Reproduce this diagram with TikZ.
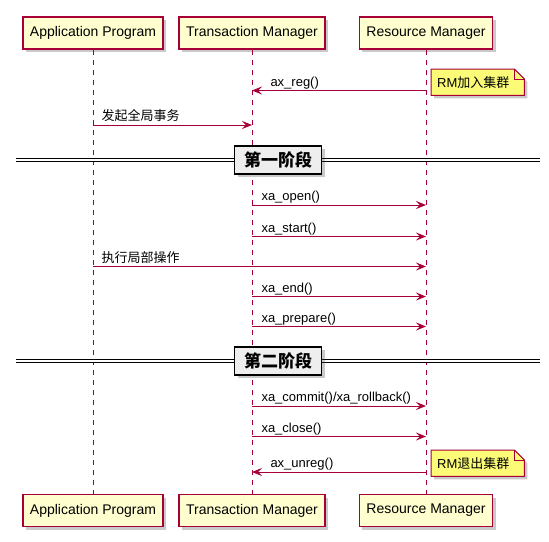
\documentclass[tikz,border=0pt]{standalone}
\usepackage{fontspec}
\setmainfont{Liberation Sans}
\newfontfamily\cjk{Noto Sans CJK SC}
\usetikzlibrary{arrows.meta,positioning,calc,shadows,backgrounds}
\definecolor{umlred}{HTML}{A80036}
\definecolor{partfill}{HTML}{FEFECE}
\definecolor{notefill}{HTML}{FBFB77}
\definecolor{phasefill}{HTML}{EEEEEE}

\begin{document}
\begin{tikzpicture}[x=1pt, y=-1pt,
  shd/.style={drop shadow={shadow xshift=3pt, shadow yshift=-3pt,
    opacity=.3, fill=black!70}},
  part/.style={draw=umlred, line width=1.5pt, fill=partfill, shd,
    inner xsep=7pt, minimum height=32pt, font=\fontsize{14}{16}\selectfont},
  life/.style={draw=umlred, line width=1pt, dash pattern=on 5pt off 5pt},
  msg/.style={draw=umlred, line width=1pt,
    -{Stealth[length=10pt, width=8pt, inset=4pt]}},
  lbl/.style={font=\fontsize{13}{15}\selectfont, inner sep=0pt},
  notetxt/.style={lbl, text width=81pt, inner xsep=6pt, minimum height=26pt},
  notebg/.style={draw=umlred, line width=1pt, fill=notefill, shd},
  sep/.style={draw=black, line width=1pt, double=white, double distance=2pt},
  phase/.style={draw=black, line width=1.5pt, fill=phasefill, shd,
    minimum width=87pt, minimum height=28pt, inner sep=0pt,
    font=\fontsize{17}{19}\selectfont\cjk\bfseries},
]
\useasboundingbox (0,0) rectangle (549,541);
% participants
\node[part] (apt) at (93,33) {Application Program};
\node[part] (tmt) at (252,33) {Transaction Manager};
\node[part] (rmt) at (426,33) {Resource Manager};
\node[part] (apb) at (93,510.5) {Application Program};
\node[part] (tmb) at (252,510.5) {Transaction Manager};
\node[part] (rmb) at (426,510.5) {Resource Manager};
\draw[life] (apt) -- (apb);
\draw[life] (tmt) -- (tmb);
\draw[life] (rmt) -- (rmb);

% phase separators
\coordinate (s1l) at (16,160);
\coordinate (s1r) at (540,160);
\coordinate (s2l) at (16,361);
\coordinate (s2r) at (540,361);
\draw[sep] (s1l) -- (s1r);
\draw[sep] (s2l) -- (s2r);
\node[phase] (ph1) at (278,160) {第一阶段};
\node[phase] (ph2) at (278,361) {第二阶段};

% messages
\draw[msg] (rmt |- 0,90.5) -- (tmt |- 0,90.5)
  node[lbl, pos=1, anchor=base west, xshift=18pt, yshift=4.5pt] {ax\_reg()};
\draw[msg] (apt |- 0,125) -- (tmt |- 0,125)
  node[lbl, pos=0, anchor=base west, xshift=8pt, yshift=4.5pt] {\cjk 发起全局事务};
\draw[msg] (tmt |- 0,205) -- (rmt |- 0,205)
  node[lbl, pos=0, anchor=base west, xshift=9pt, yshift=4.5pt] {xa\_open()};
\draw[msg] (tmt |- 0,236.5) -- (rmt |- 0,236.5)
  node[lbl, pos=0, anchor=base west, xshift=9pt, yshift=4.5pt] {xa\_start()};
\draw[msg] (apt |- 0,266.5) -- (rmt |- 0,266.5)
  node[lbl, pos=0, anchor=base west, xshift=8pt, yshift=4.5pt] {\cjk 执行局部操作};
\draw[msg] (tmt |- 0,296.5) -- (rmt |- 0,296.5)
  node[lbl, pos=0, anchor=base west, xshift=9pt, yshift=4.5pt] {xa\_end()};
\draw[msg] (tmt |- 0,326.5) -- (rmt |- 0,326.5)
  node[lbl, pos=0, anchor=base west, xshift=9pt, yshift=4.5pt] {xa\_prepare()};
\draw[msg] (tmt |- 0,406) -- (rmt |- 0,406)
  node[lbl, pos=0, anchor=base west, xshift=9pt, yshift=4.5pt] {xa\_commit()/xa\_rollback()};
\draw[msg] (tmt |- 0,436.5) -- (rmt |- 0,436.5)
  node[lbl, pos=0, anchor=base west, xshift=9pt, yshift=4.5pt] {xa\_close()};
\draw[msg] (rmt |- 0,472) -- (tmt |- 0,472)
  node[lbl, pos=1, anchor=base west, xshift=18pt, yshift=4.5pt] {ax\_unreg()};

% notes
\node[notetxt, anchor=north west] (join) at (431,69) {RM{\cjk 加入集群}};
\node[notetxt, anchor=north west] (quit) at (431,450) {RM{\cjk 退出集群}};
\begin{pgfonlayer}{background}
\path[notebg] (join.south west) -- (join.north west) -- ([xshift=-10pt]join.north east)
  -- ([yshift=-10pt]join.north east) -- (join.south east) -- cycle;
\path[notebg] (quit.south west) -- (quit.north west) -- ([xshift=-10pt]quit.north east)
  -- ([yshift=-10pt]quit.north east) -- (quit.south east) -- cycle;
\end{pgfonlayer}
\draw[umlred, line width=1pt] ([xshift=-10pt]join.north east)
  -- ([xshift=-10pt, yshift=-10pt]join.north east) -- ([yshift=-10pt]join.north east);
\draw[umlred, line width=1pt] ([xshift=-10pt]quit.north east)
  -- ([xshift=-10pt, yshift=-10pt]quit.north east) -- ([yshift=-10pt]quit.north east);
\end{tikzpicture}
\end{document}
